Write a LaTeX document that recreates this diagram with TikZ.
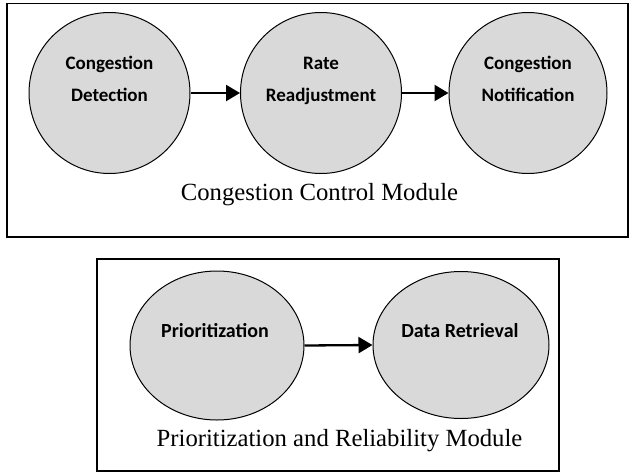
\documentclass[tikz,border=0pt]{standalone}
\usepackage{fontspec}
\setmainfont{Liberation Serif}
\newfontfamily\calib{Carlito}
\usetikzlibrary{shapes.geometric,arrows.meta}
\definecolor{cfill}{HTML}{D9D9D9}
\begin{document}
\begin{tikzpicture}[x=1pt,y=-1pt,
  modbox/.style={draw=black,line width=1.6pt},
  bub/.style={ellipse,draw=black,line width=1pt,fill=cfill,inner sep=0pt},
  btxt/.style={anchor=base,inner sep=0pt,font=\calib\bfseries\fontsize{19}{23}\selectfont},
  btxtb/.style={anchor=base,inner sep=0pt,font=\calib\bfseries\fontsize{20}{24}\selectfont},
  conn/.style={-{Triangle[length=14pt,width=16pt]},line width=2.3pt},
  modlabel/.style={anchor=base,inner sep=0pt,font=\fontsize{24.7}{28}\selectfont}]
\useasboundingbox (0,0) rectangle (630,472);
\draw[modbox] (7,3.5) rectangle (628,237);
\draw[modbox] (97,259) rectangle (559,471);
% top module
\node[bub,minimum width=161pt,minimum height=161pt] (cd) at (109.5,93) {};
\node[bub,minimum width=161pt,minimum height=161pt] (rr) at (321,93) {};
\node[bub,minimum width=158pt,minimum height=161pt] (cn) at (528,93) {};
\node[btxt] (cd1) at (109.5,69) {Congestion};
\node[btxt] (cd2) at (109.5,101) {Detection};
\node[btxt] (rr1) at (321,69) {Rate};
\node[btxt] (rr2) at (321,101) {Readjustment};
\node[btxt] (cn1) at (528,69) {Congestion};
\node[btxt] (cn2) at (528,101) {Notification};
\draw[conn] (cd) -- (rr);
\draw[conn] (rr) -- (cn);
\node[modlabel] (ccm) at (319.5,200) {Congestion Control Module};
% bottom module
\node[bub,minimum width=174pt,minimum height=149pt] (pr) at (217,345.5) {};
\node[bub,minimum width=176pt,minimum height=147pt] (dr) at (461,345) {};
\node[btxtb] (pr1) at (215,337) {Prioritization};
\node[btxtb] (dr1) at (460,337) {Data Retrieval};
\draw[conn] (pr.east) -- (dr.west);
\node[modlabel] (prm) at (339.5,446) {Prioritization and Reliability Module};
\end{tikzpicture}
\end{document}
